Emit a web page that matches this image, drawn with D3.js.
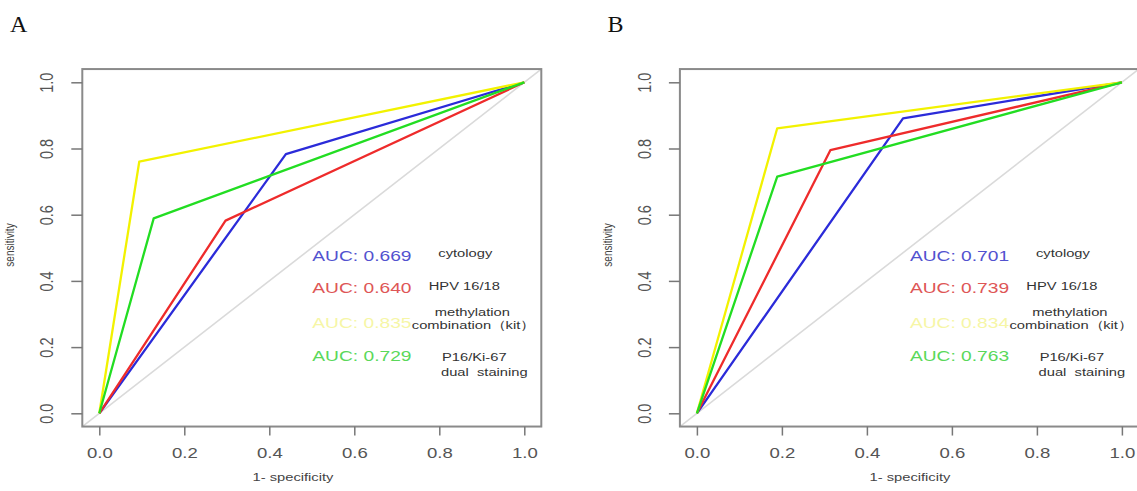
<!DOCTYPE html>
<html>
<head>
<meta charset="utf-8">
<script src="https://cdn.jsdelivr.net/npm/d3@7"></script>
<style>
  body { margin: 0; background: #fff; }
  svg { display: block; font-family: "Liberation Sans", Arial, sans-serif; }
</style>
</head>
<body>
<svg id="chart" width="1137" height="491"></svg>
<script>
// ROC curves, panel A and panel B
const xTicks = [0, 0.2, 0.4, 0.6, 0.8, 1];
const yTicks = [0, 0.2, 0.4, 0.6, 0.8, 1];
const tests = ['cytology', 'HPV 16/18', 'methylation\ncombination（kit）', 'P16/Ki-67\ndual  staining'];
const lineColors = ['#2b2bd9', '#ee2b2b', '#f2f200', '#22dd22'];
const textColors = ['#5252cf', '#de5656', '#f6f6a6', '#5ad85a'];

// single cut-off point of each test (1-specificity, sensitivity)
const fprA = [0.439, 0.297, 0.094, 0.128];
const tprA = [0.783, 0.582, 0.760, 0.589];
const aucA = ['0.669', '0.640', '0.835', '0.729'];

const fprB = [0.485, 0.314, 0.189, 0.189];
const tprB = [0.891, 0.795, 0.861, 0.715];
const aucB = ['0.701', '0.739', '0.834', '0.763'];

const STRETCH = 1.28; // source bitmap is stretched horizontally
const svg = d3.select('#chart');

function drawPanel(ox, letter, fpr, tpr, auc, xTitleX) {
  const g = svg.append('g').attr('transform', `translate(${ox},0)`);
  const x = d3.scaleLinear().domain([0, 1]).range([99.3, 524.3]);
  const y = d3.scaleLinear().domain([0, 1]).range([413.3, 82.3]);
  const x0 = x(-0.04), x1 = x(1.04), y0 = y(-0.04), y1 = y(1.04);

  // panel letter
  g.append('text')
    .attr('x', 10).attr('y', 32)
    .attr('font-family', '"Liberation Serif", "Times New Roman", serif')
    .attr('font-size', 24)
    .attr('fill', '#111')
    .text(letter);

  // reference diagonal
  g.append('line')
    .attr('x1', x0).attr('y1', y0).attr('x2', x1).attr('y2', y1)
    .attr('stroke', '#dadada').attr('stroke-width', 1.6);

  // curves
  const line = d3.line().x(d => x(d[0])).y(d => y(d[1]));
  tests.forEach((t, i) => {
    g.append('path')
      .datum([[0, 0], [fpr[i], tpr[i]], [1, 1]])
      .attr('d', line)
      .attr('fill', 'none')
      .attr('stroke', lineColors[i])
      .attr('stroke-width', 2.3)
      .attr('stroke-linejoin', 'round');
  });

  // box
  g.append('rect')
    .attr('x', x0).attr('y', y1)
    .attr('width', x1 - x0).attr('height', y0 - y1)
    .attr('fill', 'none').attr('stroke', '#8a8a8a').attr('stroke-width', 2);

  // x axis
  const xa = g.append('g')
    .attr('transform', `translate(0,${y0})`)
    .call(d3.axisBottom(x).tickValues(xTicks).tickSize(9).tickFormat(d3.format('.1f')));
  xa.select('.domain').remove();
  xa.selectAll('line').attr('stroke', '#777').attr('stroke-width', 1.5);
  xa.selectAll('text')
    .attr('y', 0).attr('dy', null)
    .attr('transform', `translate(0,31) scale(${STRETCH},1)`)
    .attr('font-size', 14.5).attr('fill', '#555')
    .attr('font-family', '"Liberation Sans", Arial, sans-serif');

  // y axis
  const ya = g.append('g')
    .attr('transform', `translate(${x0},0)`)
    .call(d3.axisLeft(y).tickValues(yTicks).tickSize(11).tickFormat(d3.format('.1f')));
  ya.select('.domain').remove();
  ya.selectAll('line').attr('stroke', '#777').attr('stroke-width', 1.5);
  ya.selectAll('text')
    .attr('x', 0).attr('y', 0).attr('dy', null)
    .attr('text-anchor', 'middle')
    .attr('transform', `translate(${53 - x0},0) scale(${STRETCH},1) rotate(-90)`)
    .attr('font-size', 14.5).attr('fill', '#555')
    .attr('font-family', '"Liberation Sans", Arial, sans-serif');

  // axis titles
  g.append('text')
    .attr('text-anchor', 'middle')
    .attr('transform', `translate(${xTitleX},481) scale(${STRETCH},1)`)
    .attr('font-size', 11.5).attr('fill', '#444')
    .text('1- specificity');
  g.append('text')
    .attr('text-anchor', 'middle')
    .attr('transform', `translate(14,245) scale(${STRETCH},1) rotate(-90)`)
    .attr('font-size', 10).attr('fill', '#444')
    .text('sensitivity');

  // legend
  const aucY = [255, 287, 322, 355];
  const descY = [[252], [285], [311, 324], [356, 371]];
  const descX = [[366], [365], [373, 374], [375, 385]];
  tests.forEach((t, i) => {
    g.append('text')
      .attr('transform', `translate(${x(0) + 213},${aucY[i] + 5.5}) scale(${STRETCH},1)`)
      .attr('font-size', 15).attr('fill', textColors[i])
      .text('AUC: ' + auc[i]);
    t.split('\n').forEach((s, j) => {
      g.append('text')
        .attr('text-anchor', 'middle')
        .attr('transform', `translate(${x(0) + descX[i][j]},${descY[i][j] + 4.5}) scale(${STRETCH},1)`)
        .attr('font-size', 11.5).attr('fill', '#333')
        .attr('xml:space', 'preserve')
        .text(s);
    });
  });
}

drawPanel(0, 'A', fprA, tprA, aucA, 293);
drawPanel(597.6, 'B', fprB, tprB, aucB, 312.4);
</script>
</body>
</html>
